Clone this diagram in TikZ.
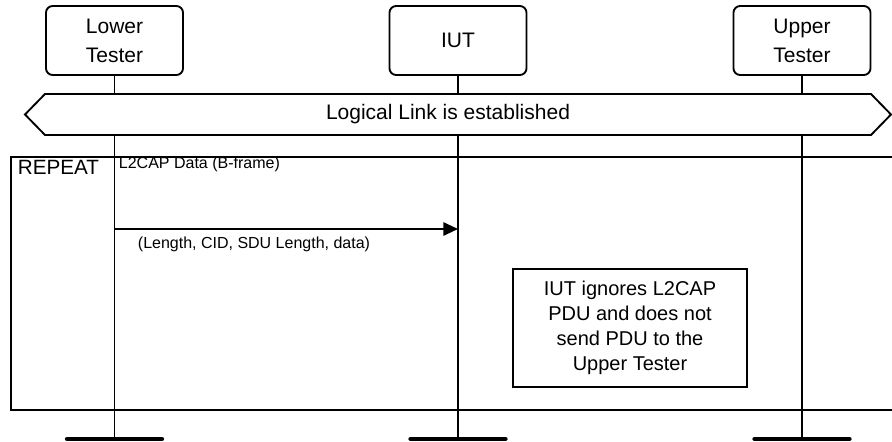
\documentclass[tikz,border=0pt]{standalone}
\usepackage{fontspec}
\setmainfont{Liberation Sans}
\usetikzlibrary{arrows.meta, positioning, calc}

\begin{document}
\begin{tikzpicture}[
  x=0.75pt, y=-0.75pt,
  line width=1.4pt,
  entity/.style={rectangle, draw, fill=white, rounded corners=5pt,
                 minimum width=102.75pt, minimum height=51.75pt, align=center,
                 font=\fontsize{15.75}{21.75}\selectfont},
  life/.style={line width=1.4pt},
  ground/.style={line width=3.2pt, line cap=round},
  msg/.style={-{Triangle[length=11pt, width=10pt]}},
  lbl/.style={font=\fontsize{12}{14}\selectfont, inner sep=0pt},
  note/.style={rectangle, draw, fill=white, minimum width=175.5pt, minimum height=88.5pt,
               align=center, font=\fontsize{15}{18.75}\selectfont}
]
  \useasboundingbox (0,0) rectangle (892,442);

  % Entities
  \node[entity] (lt)  at (114.5,40.5) {Lower\\Tester};
  \node[entity] (iut) at (458,40.5)   {IUT};
  \node[entity] (ut)  at (802,40.5)   {Upper\\Tester};

  % Ends of lifelines
  \coordinate (lt-end)  at (114.5,439);
  \coordinate (iut-end) at (458,439);
  \coordinate (ut-end)  at (802,439);

  % REPEAT frame (open at the right)
  \draw (892,157) -- (11,157) -- (11,410) -- (892,410);
  \node[anchor=base west, inner sep=0pt, font=\fontsize{15.5}{18}\selectfont] (rep) at (17,175) {REPEAT};

  % Lifelines
  \draw[life] (lt.south)  -- (lt-end);
  \draw[life] (iut.south) -- (iut-end);
  \draw[life] (ut.south)  -- (ut-end);
  \foreach \e in {lt-end, iut-end, ut-end}
    \draw[ground] ($(\e)+(-47.5,0)$) -- ($(\e)+(47.5,0)$);

  % Logical link condition
  \draw[fill=white] (25,114.5) -- (45,94) -- (871,94) -- (891,114.5) -- (871,135) -- (45,135) -- cycle;
  \node[font=\fontsize{15.75}{18}\selectfont] (link) at (448,114.5) {Logical Link is established};

  % Message
  \draw[msg] (lt |- 0,229) -- (iut |- 0,229);
  \node[lbl, anchor=base west] (m1) at (118,168.5) {L2CAP Data (B-frame)};
  \node[lbl, anchor=base west] (m2) at (137,248) {(Length, CID, SDU Length, data)};

  % Note
  \node[note] (nt) at (630,328) {IUT ignores L2CAP\\PDU and does not\\send PDU to the\\Upper Tester};
\end{tikzpicture}
\end{document}
